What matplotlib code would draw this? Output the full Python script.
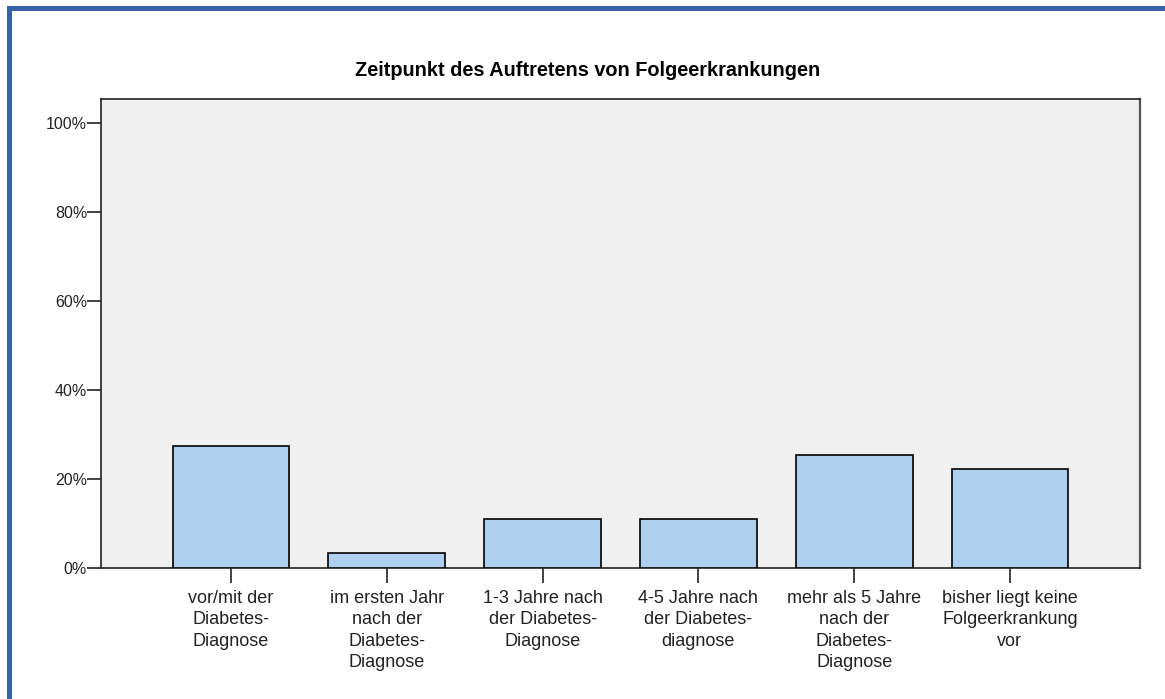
import numpy as np
import matplotlib
matplotlib.use('Agg')
import matplotlib.pyplot as plt
from matplotlib.patches import Rectangle

plt.rcParams['font.family'] = ['Liberation Sans', 'DejaVu Sans']

# Daten
kategorien = ['vor/mit der\nDiabetes-\nDiagnose',
              'im ersten Jahr\nnach der\nDiabetes-\nDiagnose',
              '1-3 Jahre nach\nder Diabetes-\nDiagnose',
              '4-5 Jahre nach\nder Diabetes-\ndiagnose',
              'mehr als 5 Jahre\nnach der\nDiabetes-\nDiagnose',
              'bisher liegt keine\nFolgeerkrankung\nvor']
prozent = [27.4, 3.4, 11.0, 11.0, 25.4, 22.2]
yticks = [0, 20, 40, 60, 80, 100]
titel = 'Zeitpunkt des Auftretens von Folgeerkrankungen'

fig = plt.figure(figsize=(11.65, 6.99), dpi=100)
ax = fig.add_axes([101/1165, 1-568/699, (1140-101)/1165, (568-99)/699])

x = np.arange(len(kategorien))
ax.bar(x, prozent, width=0.75, color='#aecfed', edgecolor='black', linewidth=1.2, zorder=3)

ax.set_facecolor('#f0f0f0')
ax.set_xlim(-0.835, 5.835)
ax.set_ylim(0, 105.4)
ax.set_yticks(yticks)
ax.set_yticklabels([f'{v}%' for v in yticks], fontsize=11.5, color='#222222')
ax.set_xticks(x)
ax.set_xticklabels(kategorien, fontsize=13, linespacing=1.32, color='#222222')
ax.tick_params(axis='y', length=10, width=1.3, color='#333333', pad=0)
ax.tick_params(axis='x', length=11, width=1.3, color='#333333', pad=5)
for s in ax.spines.values():
    s.set_linewidth(1.2)
    s.set_color('#222222')
ax.spines['right'].set_color('#555555')
ax.spines['right'].set_linewidth(1.6)

fig.text(588/1165, 1-71/699, titel, ha='center', va='center', fontsize=14.3, fontweight='bold')

# blauer Rahmen oben und links
blau = '#3763a6'
fig.patches.append(Rectangle((7/1165, 1-11/699), 1-7/1165, 5/699, transform=fig.transFigure,
                             facecolor=blau, edgecolor='none', zorder=5))
fig.patches.append(Rectangle((7/1165, 0), 5/1165, 1-6/699, transform=fig.transFigure,
                             facecolor=blau, edgecolor='none', zorder=5))

plt.savefig('out.png', dpi=100)
